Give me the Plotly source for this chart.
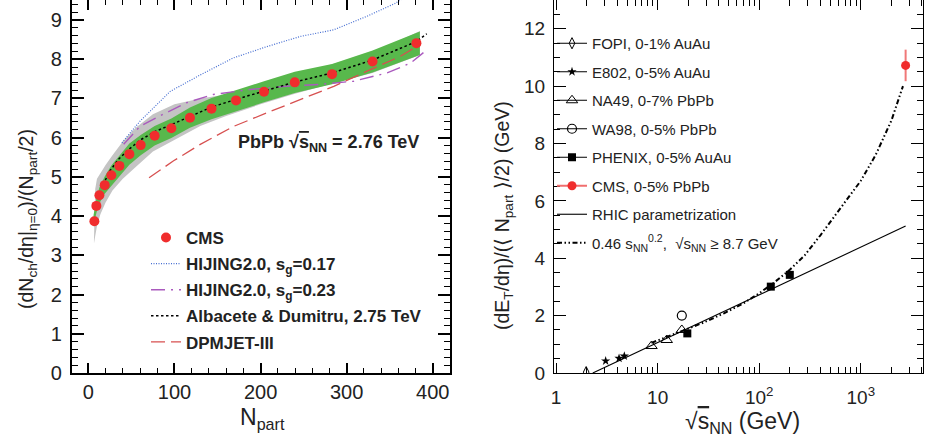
import plotly.graph_objects as go

W, H = 930, 443

# ---------------- Left panel data ----------------
npart = [7, 9.3, 12.8, 19, 26.7, 36, 47.6, 60.8, 77, 96.4, 118, 143, 171.5, 204, 239.7, 283, 330, 381]
cms_mult = [3.87, 4.26, 4.53, 4.79, 5.04, 5.28, 5.58, 5.81, 6.05, 6.24, 6.51, 6.74, 6.95, 7.17, 7.41, 7.62, 7.94, 8.41]

green_x = [6, 9.3, 12.8, 19, 26.7, 36, 47.6, 60.8, 77, 96.4, 118, 143, 171.5, 204, 239.7, 283, 330, 385]
green_lo = [3.72, 4.08, 4.33, 4.57, 4.79, 5.01, 5.31, 5.55, 5.80, 5.99, 6.25, 6.47, 6.68, 6.90, 7.14, 7.36, 7.66, 8.11]
green_hi = [4.02, 4.44, 4.73, 5.01, 5.29, 5.55, 5.85, 6.07, 6.30, 6.49, 6.77, 7.01, 7.22, 7.44, 7.68, 7.88, 8.22, 8.71]

gray_x = [6.5, 8, 10, 14, 20, 28, 40, 55, 75, 100, 130, 160, 200, 240, 280, 330, 385]
gray_hi = [3.4, 4.7, 4.95, 5.1, 5.3, 5.55, 5.9, 6.25, 6.6, 6.85, 7.0, 7.1, 7.3, 7.55, 7.85, 8.15, 8.72]
gray_lo = [3.3, 3.5, 3.75, 4.05, 4.35, 4.65, 4.95, 5.25, 5.65, 5.95, 6.3, 6.55, 6.85, 7.12, 7.36, 7.65, 8.11]

hij17_x = [39, 60, 95, 130, 168, 207, 246, 285, 323, 356, 375]
hij17_y = [5.87, 6.42, 7.18, 7.6, 8.03, 8.32, 8.58, 8.75, 9.09, 9.42, 9.7]

hij23_x = [41, 60, 87, 114, 145, 188, 230, 269, 308, 347, 374, 391]
hij23_y = [5.83, 6.29, 6.6, 6.89, 7.1, 7.23, 7.31, 7.36, 7.44, 7.65, 7.9, 8.2]

alb_x = [17, 25, 35, 48, 61, 77, 96, 118, 143, 172, 204, 240, 283, 330, 381, 393]
alb_y = [4.8, 5.15, 5.45, 5.72, 5.95, 6.15, 6.33, 6.55, 6.78, 6.98, 7.18, 7.42, 7.65, 7.98, 8.45, 8.65]

dpm_x = [70.5, 99, 130, 169, 207, 246, 285, 323, 362, 381]
dpm_y = [4.98, 5.41, 5.83, 6.29, 6.63, 6.97, 7.31, 7.69, 8.07, 8.32]

# ---------------- Right panel data ----------------
fopi_x, fopi_y = [1.98], [0.03]
e802_x, e802_y = [3.08, 4.17, 4.7], [0.42, 0.51, 0.59]
na49_x, na49_y = [8.7, 12.3, 17.3], [0.94, 1.15, 1.5]
wa98_x, wa98_y = [17.3], [2.0]
phenix_x, phenix_y = [19.6, 130, 200], [1.38, 3.01, 3.42]
cmsE_x, cmsE_y, cmsE_err = [2760], [10.72], [0.55]

rhic_x = [2.3, 2760]
rhic_y = [0.0, 5.12]

pw_x = [8.7, 12, 17, 28, 45, 70, 100, 140, 200, 280, 400, 560, 720, 1000, 1400, 2000, 2600]
pw_y = [1.05, 1.25, 1.45, 1.75, 2.08, 2.43, 2.78, 3.15, 3.6, 4.1, 4.8, 5.5, 6.0, 6.7, 7.6, 8.8, 10.0]


def sep(vals):
    out = []
    for i, v in enumerate(vals):
        if i:
            out.append(None)
        out.append(v)
    return out


RED = "rgb(240,45,45)"
FONT = "Liberation Sans, Arial, Helvetica, sans-serif"

fig = go.Figure()

# bands
fig.add_trace(go.Scatter(x=gray_x + gray_x[::-1], y=gray_hi + gray_lo[::-1], fill="toself",
                         fillcolor="rgb(196,196,196)", line=dict(width=0), mode="lines",
                         showlegend=False, hoverinfo="skip", xaxis="x", yaxis="y"))
fig.add_trace(go.Scatter(x=green_x + green_x[::-1], y=green_hi + green_lo[::-1], fill="toself",
                         fillcolor="rgb(88,184,76)", line=dict(width=0), mode="lines",
                         showlegend=False, hoverinfo="skip", xaxis="x", yaxis="y"))

fig.add_trace(go.Scatter(x=hij17_x, y=hij17_y, mode="lines", name="<b>HIJING2.0, s<sub>g</sub>=0.17</b>",
                         line=dict(color="rgb(70,110,210)", width=1.2, dash="1px,1.5px"),
                         legend="legend", legendgroup="a2", legendrank=2, xaxis="x", yaxis="y"))
fig.add_trace(go.Scatter(x=hij23_x, y=hij23_y, mode="lines", name="<b>HIJING2.0, s<sub>g</sub>=0.23</b>",
                         line=dict(color="rgb(170,90,190)", width=1.4, dash="14px,6px,2px,6px"),
                         legend="legend", legendgroup="a3", legendrank=3, xaxis="x", yaxis="y"))
fig.add_trace(go.Scatter(x=alb_x, y=alb_y, mode="lines", name="<b>Albacete & Dumitru, 2.75 TeV</b>",
                         line=dict(color="black", width=1.5, dash="2.5px,2.5px"),
                         legend="legend", legendgroup="a4", legendrank=4, xaxis="x", yaxis="y"))
fig.add_trace(go.Scatter(x=dpm_x, y=dpm_y, mode="lines", name="<b>DPMJET-III</b>",
                         line=dict(color="rgb(215,80,80)", width=1.3, dash="14px,6px"),
                         legend="legend", legendgroup="a5", legendrank=5, xaxis="x", yaxis="y"))
fig.add_trace(go.Scatter(x=npart, y=cms_mult, mode="markers", name="<b>CMS</b>",
                         marker=dict(color=RED, size=10, symbol="circle", line=dict(width=0)),
                         legend="legend", legendgroup="a1", legendrank=1, xaxis="x", yaxis="y"))

# right panel
fig.add_trace(go.Scatter(x=rhic_x, y=rhic_y, mode="lines", name="RHIC parametrization",
                         line=dict(color="black", width=1.1),
                         legend="legend2", legendgroup="b7", legendrank=7, xaxis="x2", yaxis="y2"))
fig.add_trace(go.Scatter(x=pw_x, y=pw_y, mode="lines",
                         name="0.46 s<sub>NN</sub><sup>0.2</sup>,  √s<sub>NN</sub> ≥ 8.7 GeV",
                         line=dict(color="black", width=2, dash="5px,2.5px,1.5px,2.5px,1.5px,2.5px"),
                         legend="legend2", legendgroup="b8", legendrank=8, xaxis="x2", yaxis="y2"))

mk = dict(color="black", width=1)
fig.add_trace(go.Scatter(x=sep(fopi_x), y=sep(fopi_y), mode="lines+markers", name="FOPI, 0-1% AuAu",
                         line=mk, marker=dict(symbol="diamond-tall-open", size=8, color="black", line=dict(width=1)),
                         legend="legend2", legendgroup="b1", legendrank=1, xaxis="x2", yaxis="y2"))
fig.add_trace(go.Scatter(x=sep(e802_x), y=sep(e802_y), mode="lines+markers", name="E802, 0-5% AuAu",
                         line=mk, marker=dict(symbol="star", size=7, color="black", line=dict(width=0)),
                         legend="legend2", legendgroup="b2", legendrank=2, xaxis="x2", yaxis="y2"))
fig.add_trace(go.Scatter(x=sep(na49_x), y=sep(na49_y), mode="lines+markers", name="NA49, 0-7% PbPb",
                         line=mk, marker=dict(symbol="triangle-up-open", size=10, color="black", line=dict(width=1)),
                         legend="legend2", legendgroup="b3", legendrank=3, xaxis="x2", yaxis="y2"))
fig.add_trace(go.Scatter(x=sep(wa98_x), y=sep(wa98_y), mode="lines+markers", name="WA98, 0-5% PbPb",
                         line=mk, marker=dict(symbol="circle-open", size=9, color="black", line=dict(width=1.2)),
                         legend="legend2", legendgroup="b4", legendrank=4, xaxis="x2", yaxis="y2"))
fig.add_trace(go.Scatter(x=sep(phenix_x), y=sep(phenix_y), mode="lines+markers", name="PHENIX, 0-5% AuAu",
                         line=mk, marker=dict(symbol="square", size=8, color="black", line=dict(width=0)),
                         legend="legend2", legendgroup="b5", legendrank=5, xaxis="x2", yaxis="y2"))
fig.add_trace(go.Scatter(x=cmsE_x, y=cmsE_y, mode="lines+markers", name="CMS, 0-5% PbPb",
                         line=dict(color="rgb(240,110,110)", width=2),
                         marker=dict(symbol="circle", size=9, color=RED, line=dict(width=0)),
                         error_y=dict(type="data", array=cmsE_err, color="rgb(240,120,120)", thickness=2, width=0),
                         legend="legend2", legendgroup="b6", legendrank=6, xaxis="x2", yaxis="y2"))

dom_y = [1 - 373 / H, 1.0]
axis_common = dict(showline=True, linecolor="black", mirror="ticks", ticks="inside",
                   tickcolor="black", showgrid=False, zeroline=False, automargin=False,
                   ticklabelstandoff=4,
                   tickfont=dict(family=FONT, size=20, color="#222"))

minor_log = [m * d for d in (1, 10, 100, 1000) for m in range(2, 10)]

fig.update_layout(
    template="none",
    width=W, height=H, autosize=False,
    margin=dict(l=0, r=0, t=0, b=0, pad=0, autoexpand=False),
    paper_bgcolor="white", plot_bgcolor="white",
    font=dict(family=FONT, color="#222"),
    xaxis=dict(axis_common, domain=[72 / W, 450 / W], range=[-19, 420], dtick=100, tick0=0,
               ticklen=10, tickwidth=1.5, linewidth=2.2, ticklabelstandoff=0,
               minor=dict(ticks="inside", dtick=20, tick0=0, ticklen=5, tickcolor="black", tickwidth=1.2),
               anchor="y"),
    yaxis=dict(axis_common, domain=dom_y, range=[0, 9.51], dtick=1, tick0=0,
               ticklen=12, tickwidth=1.5, linewidth=2.2,
               minor=dict(ticks="inside", dtick=0.2, tick0=0, ticklen=6, tickcolor="black", tickwidth=1.2),
               anchor="x"),
    xaxis2=dict(axis_common, domain=[554 / W, 923 / W], type="log", range=[-0.02, 3.612],
                tickvals=[1, 10, 100, 1000], ticktext=["1", "10", "10<sup>2</sup>", "10<sup>3</sup>"],
                ticklen=10, tickwidth=1, linewidth=1.3, ticklabelstandoff=7,
                tickfont=dict(family=FONT, size=19, color="#222"),
                minor=dict(ticks="inside", tickvals=minor_log, ticklen=6, tickcolor="black", tickwidth=1),
                anchor="y2"),
    yaxis2=dict(axis_common, domain=dom_y, range=[0, 13], dtick=2, tick0=0,
                ticklen=12, tickwidth=1, linewidth=1.3,
                tickfont=dict(family=FONT, size=19, color="#222"),
                minor=dict(ticks="inside", dtick=0.5, tick0=0, ticklen=6, tickcolor="black", tickwidth=1),
                anchor="x2"),
    legend=dict(x=146 / W, y=1 - 220 / H, xanchor="left", yanchor="top",
                bgcolor="rgba(0,0,0,0)", traceorder="grouped", tracegroupgap=1,
                font=dict(family=FONT, size=17, color="#222")),
    legend2=dict(x=552 / W, y=1 - 27 / H, xanchor="left", yanchor="top",
                 bgcolor="rgba(0,0,0,0)", traceorder="grouped", tracegroupgap=6,
                 font=dict(family=FONT, size=15, color="#222")),
    showlegend=True,
)

ann = [
    dict(text="(dN<sub>ch</sub>/dη|<sub>η=0</sub>)/(N<sub>part</sub>/2)", x=27 / W, y=1 - 219 / H,
         textangle=-90, font=dict(size=19.5)),
    dict(text="N<sub>part</sub>", x=262 / W, y=1 - 418 / H, font=dict(size=23)),
    dict(text="<b>PbPb √<span style='text-decoration:overline'>s</span><sub>NN</sub> = 2.76 TeV</b>",
         x=328 / W, y=1 - 143 / H, font=dict(size=18)),
    dict(text="(dE<sub>T</sub>/dη)/(⟨ N<sub>part</sub> ⟩/2) (GeV)", x=503 / W, y=1 - 216 / H,
         textangle=-90, font=dict(size=19.5)),
    dict(text="√<span style='text-decoration:overline'>s</span><sub>NN</sub> (GeV)", x=742 / W, y=1 - 422 / H,
         font=dict(size=23)),
]
for a in ann:
    a.update(xref="paper", yref="paper", showarrow=False, xanchor="center", yanchor="middle")
    a["font"].update(family=FONT, color="#222")
fig.update_layout(annotations=ann)

fig.write_html("out.html", config={"displayModeBar": False},
               post_script="document.body.style.margin='0px';document.body.style.padding='0px';")
